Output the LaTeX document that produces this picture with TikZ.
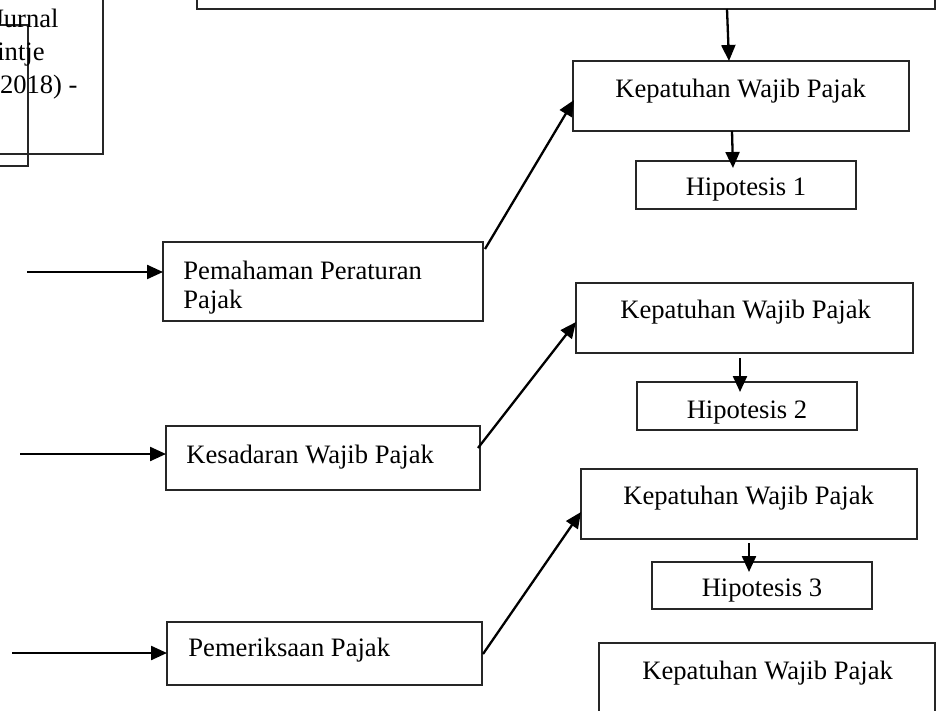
\documentclass[tikz,border=0pt]{standalone}
\usepackage{fontspec}
\setmainfont{Liberation Serif}
\usetikzlibrary{arrows.meta,calc}
\begin{document}
\begin{tikzpicture}[x=0.5pt,y=-0.5pt,
  box/.style={draw=black!85, line width=0.6pt, anchor=north west, inner sep=0pt, outer sep=0pt},
  lbl/.style={font=\fontsize{13.3}{15}\selectfont, inner sep=0pt, anchor=base west},
  lblr/.style={font=\fontsize{13.3}{15}\selectfont, inner sep=0pt, anchor=base east},
  lblc/.style={font=\fontsize{13.3}{15}\selectfont, inner sep=0pt, anchor=base},
  arr/.style={line width=1.15pt, -{Triangle[length=8pt,width=7pt]}}]
\useasboundingbox (0,0) rectangle (937,711);
\clip (0,0) rectangle (937,711);

% boxes
\node[box,minimum width=369pt,minimum height=40pt] (top) at (197,-71) {};
\node[box,minimum width=76.5pt,minimum height=102pt] (outer) at (-50,-50) {};
\node[box,minimum width=39pt,minimum height=70.5pt] (inner) at (-50,25) {};
\node[box,minimum width=168pt,minimum height=35pt] (k1) at (573,61) {};
\node[box,minimum width=110pt,minimum height=24pt] (h1) at (636,161) {};
\node[box,minimum width=160pt,minimum height=39.5pt] (p1) at (163,242) {};
\node[box,minimum width=168.5pt,minimum height=35pt] (k2) at (576,283) {};
\node[box,minimum width=110pt,minimum height=24pt] (h2) at (637,382) {};
\node[box,minimum width=157pt,minimum height=32pt] (ks) at (166,426) {};
\node[box,minimum width=168pt,minimum height=35pt] (k3) at (581,469) {};
\node[box,minimum width=110pt,minimum height=23.5pt] (h3) at (652,562) {};
\node[box,minimum width=168pt,minimum height=75pt] (k4) at (599,643) {};
\node[box,minimum width=157.5pt,minimum height=31.5pt] (pm) at (167,622) {};

% texts
\node[lblr] (j1) at (59,28) {Jurnal};
\node[lblr] (j2) at (45,61) {intje};
\node[lblr] (j3) at (78,94) {(2018) -};
\node[lbl] (k1t) at (615,98) {Kepatuhan Wajib Pajak};
\node[lblc] (h1t) at (746,196) {Hipotesis 1};
\node[lbl] (p1a) at (183,279) {Pemahaman Peraturan};
\node[lbl] (p1b) at (183,308) {Pajak};
\node[lbl] (k2t) at (620,319) {Kepatuhan Wajib Pajak};
\node[lblc] (h2t) at (747,418) {Hipotesis 2};
\node[lbl] (kst) at (186,463) {Kesadaran Wajib Pajak};
\node[lbl] (k3t) at (623,504) {Kepatuhan Wajib Pajak};
\node[lblc] (h3t) at (762,596) {Hipotesis 3};
\node[lbl] (k4t) at (642,679) {Kepatuhan Wajib Pajak};
\node[lbl] (pmt) at (188,656) {Pemeriksaan Pajak};

% vertical arrows
\draw[arr] ($(top.south west)+(530,0)$) -- ($(k1.north west)+(156,0)$);
\draw[arr] ($(k1.south west)+(159,0)$) -- ($(h1.north west)+(97,7)$);
\draw[arr] ($(k2.south west)+(164,5)$) -- ($(h2.north west)+(103,10)$);
\draw[arr] ($(k3.south west)+(168,4)$) -- ($(h3.north west)+(97,10)$);

% diagonal arrows
\draw[arr] ($(p1.north east)+(2,7)$) -- ($(k1.north west)+(1,39)$);
\draw[arr] ($(ks.north east)+(-2,22)$) -- ($(k2.north west)+(0,39)$);
\draw[arr] ($(pm.north east)+(1,32)$) -- ($(k3.north west)+(0,43)$);

% input arrows
\coordinate (i1) at (27,272);
\coordinate (i2) at (20,454);
\coordinate (i3) at (12,653);
\draw[arr] (i1) -- (i1 -| p1.west);
\draw[arr] (i2) -- (i2 -| ks.west);
\draw[arr] (i3) -- (i3 -| pm.west);
\end{tikzpicture}
\end{document}
